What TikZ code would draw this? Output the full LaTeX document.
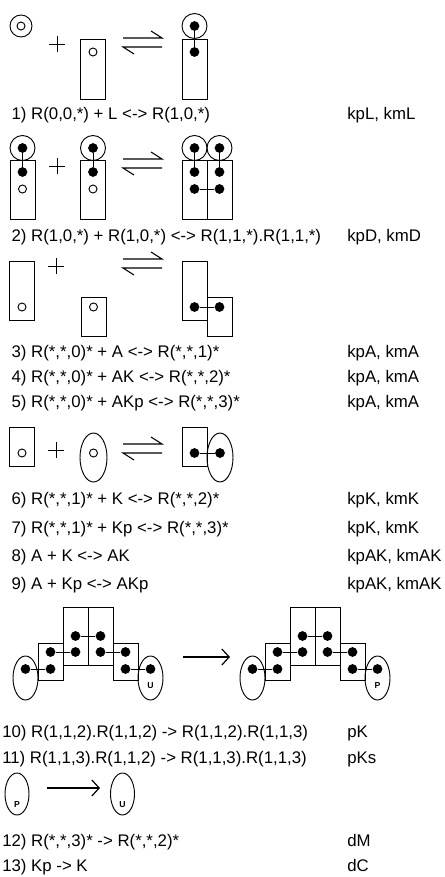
\documentclass[tikz,border=0pt]{standalone}
\usepackage{fontspec}
\setmainfont{Liberation Sans}
\usetikzlibrary{shapes.geometric,arrows.meta}
\newcommand\mfont{\fontsize{12.6pt}{15pt}\selectfont}
\newcommand\lfont{\fontsize{6.5pt}{7pt}\selectfont\bfseries}
\tikzset{
  base/.style={line width=0.7pt},
  fdot/.style={circle,fill=black,inner sep=0pt,minimum size=7.3pt},
  odot/.style={circle,draw,line width=0.7pt,fill=white,inner sep=0pt,minimum size=6pt},
  rbox/.style 2 args={draw,line width=0.7pt,inner sep=0pt,minimum width=#1*0.75pt,minimum height=#2*0.75pt},
  ring/.style={circle,draw,line width=0.7pt,inner sep=0pt,minimum size=#1*0.75pt},
  oval/.style 2 args={ellipse,draw,line width=0.7pt,inner sep=0pt,minimum width=#1*0.75pt,minimum height=#2*0.75pt},
  lbl/.style={anchor=base west,inner sep=0pt,font=\mfont},
  letter/.style={inner sep=0pt,font=\lfont},
  rarrow/.style={line width=0.9pt,-{Straight Barb[length=5.5pt,width=12pt,line join=miter]}},
}
% equilibrium harpoons, #1 name prefix, #2 y of upper line
\newcommand\eqarr[2]{%
  \coordinate (#1ul) at (123,#2); \coordinate (#1ur) at (162,#2);
  \coordinate (#1ll) at (123,#2+9); \coordinate (#1lr) at (162,#2+9);
  \draw[line width=0.8pt] (#1ul) -- (#1ur) -- ++(-11,-7);
  \draw[line width=0.8pt] (#1lr) -- (#1ll) -- ++(11,7);
}
\newcommand\plus[2]{\draw[line width=0.55pt] (#1-8,#2) -- (#1+8,#2) (#1,#2-8) -- (#1,#2+8);}
% complex of row 5: #1 name prefix, #2 x offset, #3 letter
\newcommand\cplx[3]{%
  \begin{scope}[xshift=#2*0.75pt]
  \node[rbox={25}{58}] (#1T1) at (75.5,636) {};
  \node[rbox={25}{58}] (#1T2) at (100.5,636) {};
  \node[rbox={25}{37}] (#1B1) at (50.5,661.5) {};
  \node[rbox={25}{37}] (#1B2) at (125.5,661.5) {};
  \node[oval={25}{44}] (#1E1) at (25.5,678) {};
  \node[oval={25}{44}] (#1E2) at (150.5,678) {};
  \node[letter] (#1lt) at (150.5,686) {#3};
  \node[fdot] (#1a) at (75.5,636) {};
  \node[fdot] (#1b) at (100.5,636) {};
  \node[fdot] (#1c) at (75.5,652) {};
  \node[fdot] (#1d) at (100.5,652) {};
  \node[fdot] (#1e) at (50.5,652) {};
  \node[fdot] (#1f) at (125.5,652) {};
  \node[fdot] (#1g) at (50.5,669) {};
  \node[fdot] (#1h) at (125.5,669) {};
  \node[fdot] (#1i) at (25.5,669) {};
  \node[fdot] (#1j) at (150.5,669) {};
  \draw[base] (#1a) -- (#1b) (#1e) -- (#1c) (#1d) -- (#1f) (#1i) -- (#1g) (#1h) -- (#1j);
  \end{scope}}
\begin{document}
\begin{tikzpicture}[x=0.75pt,y=-0.75pt]
\useasboundingbox[fill=white] (0,0) rectangle (444,877);

% ---------- row 1
\node[ring=22] (L1) at (21,26) {};
\node[odot] (L1d) at (21,26) {};
\plus{57}{44}
\node[rbox={25}{60}] (R1) at (93,69) {};
\node[odot] (R1d) at (93,52) {};
\eqarr{e1}{38}
\node[rbox={25}{60}] (P1) at (194.5,69) {};
\node[ring=25] (P1c) at (194.5,26) {};
\node[fdot] (P1a) at (194.5,26) {};
\node[fdot] (P1b) at (194.5,52) {};
\draw[base] (P1a) -- (P1b);

% ---------- row 2
\foreach \n/\x in {A/22.5,B/93} {
  \node[rbox={25}{59}] (R2\n) at (\x,189.5) {};
  \node[ring=25] (R2\n c) at (\x,148) {};
  \node[fdot] (R2\n a) at (\x,148) {};
  \node[fdot] (R2\n b) at (\x,172) {};
  \node[odot] (R2\n d) at (\x,189) {};
  \draw[base] (R2\n a) -- (R2\n b);
}
\plus{57}{166}
\eqarr{e2}{159}
\node[rbox={25}{59}] (P2A) at (194.5,189.5) {};
\node[rbox={25}{59}] (P2B) at (219.5,189.5) {};
\node[ring=25] (P2Ac) at (194.5,148) {};
\node[ring=25] (P2Bc) at (219.5,148) {};
\node[fdot] (P2a) at (194.5,148) {};
\node[fdot] (P2b) at (219.5,148) {};
\node[fdot] (P2c) at (194.5,172) {};
\node[fdot] (P2d) at (219.5,172) {};
\node[fdot] (P2e) at (194.5,189) {};
\node[fdot] (P2f) at (219.5,189) {};
\draw[base] (P2a) -- (P2c) (P2b) -- (P2d) (P2e) -- (P2f);

% ---------- row 3
\node[rbox={25}{59}] (R3) at (22,290.5) {};
\node[odot] (R3d) at (22,307) {};
\plus{56}{266}
\node[rbox={25}{39}] (A3) at (93.5,316.5) {};
\node[odot] (A3d) at (93.5,307) {};
\eqarr{e3}{259}
\node[rbox={25}{59}] (P3A) at (194.5,290.5) {};
\node[rbox={25}{39}] (P3B) at (219.5,316.5) {};
\node[fdot] (P3a) at (194.5,307) {};
\node[fdot] (P3b) at (219.5,307) {};
\draw[base] (P3a) -- (P3b);

% ---------- row 4
\node[rbox={25}{39}] (A4) at (22,446.5) {};
\node[odot] (A4d) at (22,453) {};
\plus{56}{450}
\node[oval={27}{49}] (K4) at (93.5,457.5) {};
\node[odot] (K4d) at (93.5,453) {};
\eqarr{e4}{444}
\node[rbox={25}{39}] (P4A) at (194.5,446.5) {};
\node[oval={26}{49}] (P4K) at (220,457.5) {};
\node[fdot] (P4a) at (194.5,453) {};
\node[fdot] (P4b) at (220,453) {};
\draw[base] (P4a) -- (P4b);

% ---------- row 5
\cplx{CL}{0}{U}
\coordinate (a5s) at (183,657);
\coordinate (a5e) at (230,657);
\draw[rarrow] (a5s) -- (a5e);
\cplx{CR}{227}{P}

% ---------- row 6
\node[oval={24}{42}] (E6P) at (17,794) {};
\node[letter] (E6Pl) at (17,805) {P};
\coordinate (a6s) at (47,788);
\coordinate (a6e) at (100,788);
\draw[rarrow] (a6s) -- (a6e);
\node[oval={24}{42}] (E6U) at (122.5,794) {};
\node[letter] (E6Ul) at (122.5,805) {U};

% ---------- texts
\node[lbl] (t1) at (2,120) {\hphantom{0}1) R(0,0,*) + L <-> R(1,0,*)};
\node[lbl] (t2) at (2,241) {\hphantom{0}2) R(1,0,*) + R(1,0,*) <-> R(1,1,*).R(1,1,*)};
\node[lbl] (t3) at (2,357) {\hphantom{0}3) R(*,*,0)* + A <-> R(*,*,1)*};
\node[lbl] (t4) at (2,382) {\hphantom{0}4) R(*,*,0)* + AK <-> R(*,*,2)*};
\node[lbl] (t5) at (2,407) {\hphantom{0}5) R(*,*,0)* + AKp <-> R(*,*,3)*};
\node[lbl] (t6) at (2,504) {\hphantom{0}6) R(*,*,1)* + K <-> R(*,*,2)*};
\node[lbl] (t7) at (2,533) {\hphantom{0}7) R(*,*,1)* + Kp <-> R(*,*,3)*};
\node[lbl] (t8) at (2,561) {\hphantom{0}8) A + K <-> AK};
\node[lbl] (t9) at (2,589) {\hphantom{0}9) A + Kp <-> AKp};
\node[lbl] (t10) at (2,737) {10) R(1,1,2).R(1,1,2) -> R(1,1,2).R(1,1,3)};
\node[lbl] (t11) at (2,763) {11) R(1,1,3).R(1,1,2) -> R(1,1,3).R(1,1,3)};
\node[lbl] (t12) at (2,846) {12) R(*,*,3)* -> R(*,*,2)*};
\node[lbl] (t13) at (2,871) {13) Kp -> K};

\node[lbl] (k1) at (347,120) {kpL, kmL};
\node[lbl] (k2) at (347,241) {kpD, kmD};
\node[lbl] (k3) at (347,357) {kpA, kmA};
\node[lbl] (k4) at (347,382) {kpA, kmA};
\node[lbl] (k5) at (347,407) {kpA, kmA};
\node[lbl] (k6) at (347,504) {kpK, kmK};
\node[lbl] (k7) at (347,533) {kpK, kmK};
\node[lbl] (k8) at (347,561) {kpAK, kmAK};
\node[lbl] (k9) at (347,589) {kpAK, kmAK};
\node[lbl] (k10) at (347,737) {pK};
\node[lbl] (k11) at (347,763) {pKs};
\node[lbl] (k12) at (347,846) {dM};
\node[lbl] (k13) at (347,871) {dC};
\end{tikzpicture}
\end{document}
